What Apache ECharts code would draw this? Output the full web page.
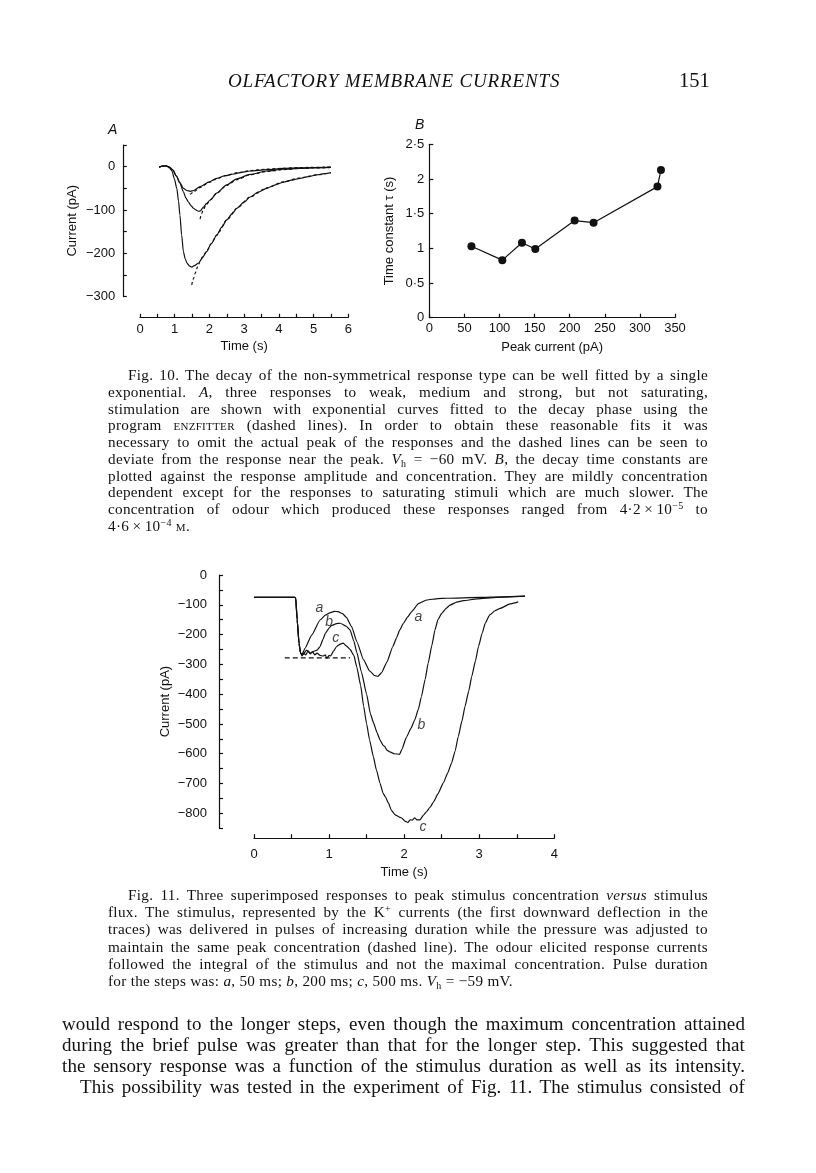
<!DOCTYPE html>
<html><head><meta charset="utf-8">
<script src="https://cdn.jsdelivr.net/npm/echarts@6/dist/echarts.min.js"></script>
<style>
html,body{margin:0;padding:0;background:#fff;}
#page{position:relative;width:816px;height:1173px;overflow:hidden;background:#fff;}
#chart{position:absolute;left:0;top:0;width:816px;height:1173px;}
.t{position:absolute;font-family:"Liberation Serif","Times New Roman",serif;color:#111;}
.cap{font-size:15.2px;line-height:16.75px;letter-spacing:0.3px;}
.cap2{font-size:15.2px;line-height:17.2px;letter-spacing:0.3px;}
.body{font-size:19px;line-height:21px;letter-spacing:0.1px;}
.j{text-align:justify;text-align-last:justify;}
.sc{font-variant:small-caps;}
.sup{font-size:10px;vertical-align:5px;line-height:0;}
.sub{font-size:10px;vertical-align:-3px;line-height:0;}
.pl{position:absolute;font-family:"Liberation Sans",Arial,sans-serif;font-style:italic;font-size:14px;color:#111;}
</style>
</head><body>
<div id="page">
<div id="chart"></div>

<div class="t" style="left:228px;top:70px;font-size:19px;font-style:italic;letter-spacing:0.85px;white-space:nowrap;">OLFACTORY MEMBRANE CURRENTS</div>
<div class="t" style="left:679px;top:69px;font-size:20.5px;white-space:nowrap;">151</div>

<div class="pl" style="left:108px;top:121px;">A</div>
<div class="pl" style="left:415px;top:116px;">B</div>

<div class="t cap" style="left:108px;top:367px;width:600px;">
<div class="j" style="padding-left:20px;">Fig. 10. The decay of the non-symmetrical response type can be well fitted by a single</div>
<div class="j">exponential. <i>A</i>, three responses to weak, medium and strong, but not saturating,</div>
<div class="j">stimulation are shown with exponential curves fitted to the decay phase using the</div>
<div class="j">program <span class="sc">enzfitter</span> (dashed lines). In order to obtain these reasonable fits it was</div>
<div class="j">necessary to omit the actual peak of the responses and the dashed lines can be seen to</div>
<div class="j">deviate from the response near the peak. <i>V</i><span class="sub">h</span> = −60 mV. <i>B</i>, the decay time constants are</div>
<div class="j">plotted against the response amplitude and concentration. They are mildly concentration</div>
<div class="j">dependent except for the responses to saturating stimuli which are much slower. The</div>
<div class="j">concentration of odour which produced these responses ranged from 4·2&#8201;×&#8201;10<span class="sup">−5</span> to</div>
<div>4·6&#8201;×&#8201;10<span class="sup">−4</span> <span class="sc">m</span>.</div>
</div>

<div class="t cap2" style="left:108px;top:886px;width:600px;">
<div class="j" style="padding-left:20px;">Fig. 11. Three superimposed responses to peak stimulus concentration <i>versus</i> stimulus</div>
<div class="j">flux. The stimulus, represented by the K<span class="sup">+</span> currents (the first downward deflection in the</div>
<div class="j">traces) was delivered in pulses of increasing duration while the pressure was adjusted to</div>
<div class="j">maintain the same peak concentration (dashed line). The odour elicited response currents</div>
<div class="j">followed the integral of the stimulus and not the maximal concentration. Pulse duration</div>
<div>for the steps was: <i>a</i>, 50 ms; <i>b</i>, 200 ms; <i>c</i>, 500 ms. <i>V</i><span class="sub">h</span> = −59 mV.</div>
</div>

<div class="t body" style="left:62px;top:1013px;width:683px;">
<div class="j">would respond to the longer steps, even though the maximum concentration attained</div>
<div class="j">during the brief pulse was greater than that for the longer step. This suggested that</div>
<div class="j">the sensory response was a function of the stimulus duration as well as its intensity.</div>
<div class="j" style="padding-left:18px;">This possibility was tested in the experiment of Fig. 11. The stimulus consisted of</div>
</div>
</div>

<script>
// ---------- Fig. 10 A : responses (time s, current pA) ----------
const weakResp = [[0.55,-1],[0.65,1],[0.75,2],[0.85,-1],[0.95,-8],[1.05,-22],[1.15,-37],[1.25,-50],[1.35,-55],[1.45,-57],[1.55,-55],[1.73,-46],[2.0,-35],[2.21,-27],[2.45,-21],[2.69,-17],[2.93,-13],[3.17,-10],[3.65,-7],[4.13,-4],[4.6,-3],[5.0,-2],[5.5,-1]];
const weakFit = [[1.44,-64],[1.55,-58],[1.73,-48],[2.0,-36],[2.21,-28],[2.5,-20],[2.8,-14],[3.2,-9],[3.6,-6],[4.1,-4],[4.6,-2],[5.5,-1]];
const mediumResp = [[0.55,-1],[0.65,1],[0.75,2],[0.85,-1],[0.95,-8],[1.05,-22],[1.15,-38],[1.25,-58],[1.32,-72],[1.39,-81],[1.47,-90],[1.54,-96],[1.61,-100],[1.68,-103],[1.74,-102],[1.82,-94],[1.92,-85],[2.02,-77],[2.21,-61],[2.5,-42],[2.79,-28],[3.17,-18],[3.65,-10],[4.13,-6],[4.61,-4],[5.0,-3],[5.5,-2]];
const mediumFit = [[1.73,-121],[1.78,-108],[1.82,-99],[1.92,-87],[2.02,-77],[2.21,-61],[2.5,-43],[2.79,-30],[3.17,-19],[3.65,-11],[4.13,-7],[4.61,-4],[5.0,-3],[5.5,-2]];
const strongResp = [[0.55,-1],[0.65,1],[0.75,2],[0.85,-3],[0.92,-10],[0.99,-28],[1.06,-50],[1.11,-80],[1.15,-112],[1.20,-158],[1.25,-196],[1.30,-212],[1.35,-222],[1.42,-229],[1.49,-232],[1.58,-228],[1.68,-223],[1.8,-210],[1.92,-196],[2.05,-178],[2.21,-158],[2.35,-140],[2.5,-123],[2.65,-109],[2.79,-96],[3.0,-82],[3.17,-70],[3.4,-59],[3.65,-50],[3.9,-42],[4.13,-36],[4.37,-31],[4.61,-27],[4.85,-23],[5.09,-19],[5.3,-16],[5.5,-14]];
const strongFit = [[1.49,-273],[1.54,-258],[1.59,-246],[1.66,-231],[1.73,-219],[1.82,-206],[1.92,-195],[2.05,-178],[2.21,-158],[2.5,-123],[2.79,-96],[3.17,-70],[3.65,-49],[4.13,-35],[4.61,-26],[5.09,-19],[5.5,-14]];

// ---------- Fig. 10 B : decay time constants ----------
const peakCurrent = [60, 104, 132, 151, 207, 234, 325, 330];
const tauValues   = [1.03, 0.83, 1.08, 0.99, 1.40, 1.37, 1.89, 2.13];

// ---------- Fig. 11 : superimposed responses ----------
const traceA = [[0,-75],[0.54,-75],[0.555,-76],[0.575,-150],[0.6,-230],[0.62,-262],[0.64,-266],[0.68,-246],[0.77,-201],[0.88,-151],[0.95,-135],[1.01,-127],[1.07,-122],[1.12,-123],[1.18,-130],[1.23,-142],[1.30,-173],[1.37,-224],[1.46,-285],[1.54,-322],[1.61,-338],[1.65,-340],[1.70,-328],[1.77,-292],[1.85,-240],[1.90,-210],[1.94,-185],[1.99,-162],[2.05,-140],[2.10,-123],[2.19,-96],[2.30,-84],[2.45,-79],[2.57,-78],[3.01,-75],[3.3,-73],[3.61,-71]];
const traceB = [[0,-75],[0.54,-75],[0.555,-76],[0.575,-150],[0.6,-230],[0.62,-262],[0.65,-268],[0.70,-252],[0.75,-262],[0.79,-257],[0.84,-252],[0.88,-240],[0.92,-215],[0.95,-196],[1.0,-178],[1.03,-170],[1.10,-163],[1.15,-162],[1.23,-172],[1.28,-185],[1.33,-222],[1.37,-260],[1.43,-325],[1.50,-400],[1.55,-465],[1.59,-495],[1.64,-530],[1.68,-554],[1.72,-572],[1.74,-575],[1.77,-588],[1.81,-594],[1.87,-600],[1.94,-602],[1.97,-585],[2.03,-545],[2.09,-515],[2.14,-487],[2.19,-450],[2.23,-408],[2.28,-350],[2.32,-296],[2.37,-235],[2.41,-185],[2.45,-150],[2.50,-129],[2.56,-112],[2.61,-101],[2.70,-91],[2.79,-86],[2.97,-80],[3.23,-75],[3.61,-71]];
const traceC = [[0,-75],[0.54,-75],[0.555,-76],[0.575,-150],[0.6,-230],[0.62,-262],[0.64,-272],[0.66,-262],[0.69,-268],[0.72,-255],[0.75,-265],[0.78,-258],[0.81,-268],[0.84,-262],[0.88,-270],[0.92,-272],[0.95,-268],[0.97,-280],[1.0,-270],[1.02,-272],[1.06,-255],[1.10,-240],[1.15,-232],[1.19,-229],[1.23,-238],[1.28,-250],[1.33,-270],[1.37,-310],[1.42,-370],[1.46,-440],[1.50,-500],[1.54,-554],[1.59,-610],[1.63,-654],[1.68,-700],[1.72,-733],[1.75,-745],[1.79,-765],[1.83,-790],[1.88,-805],[1.93,-812],[1.97,-816],[2.01,-826],[2.05,-831],[2.08,-822],[2.11,-823],[2.14,-815],[2.17,-822],[2.21,-822],[2.26,-805],[2.30,-794],[2.35,-778],[2.39,-762],[2.45,-735],[2.52,-699],[2.58,-665],[2.63,-632],[2.68,-590],[2.72,-543],[2.77,-490],[2.81,-442],[2.86,-390],[2.90,-341],[2.95,-288],[2.99,-240],[3.04,-195],[3.08,-162],[3.14,-134],[3.21,-120],[3.28,-112],[3.41,-97],[3.52,-90]];
const stimLevel = [[0.41,-278],[1.28,-278]];
const traceLabels = [[0.87,-112,'a'],[1.00,-157,'b'],[1.09,-212,'c'],[2.19,-142,'a'],[2.23,-503,'b'],[2.25,-847,'c']];

// tick label lists
const aYLabels = [0,-100,-200,-300];
const cYLabels = [0,-100,-200,-300,-400,-500,-600,-700,-800];

const INK = '#111';
const FONT = '"Liberation Sans", Arial, sans-serif';
const minus = v => v < 0 ? '\u2212' + Math.abs(v) : String(v);

function axisCommon(extra){
  return Object.assign({
    type:'value',
    axisLine:{show:true,onZero:false,lineStyle:{color:INK,width:1.2}},
    axisTick:{show:true,inside:true,length:4,lineStyle:{color:INK,width:1.2}},
    splitLine:{show:false},
    nameTextStyle:{color:INK,fontFamily:FONT,fontSize:13},
  }, extra);
}
function lbl(extra){
  return Object.assign({color:INK,fontFamily:FONT,fontSize:13}, extra);
}

const chart = echarts.init(document.getElementById('chart'), null, {renderer:'canvas'});
const line = (data, xi, dashed) => ({
  type:'line', xAxisIndex:xi, yAxisIndex:xi, data, symbol:'none', smooth:0.25, smoothMonotone:'x',
  lineStyle:{color:INK,width:1.2,type: dashed ? [3,2.5] : 'solid'}, silent:true, z: dashed ? 3 : 2
});

chart.setOption({
  animation:false,
  grid:[
    {left:140, top:145, width:208.3, height:151.6, outerBoundsMode:'none'},
    {left:429.3, top:144.3, width:245.7, height:173.4, outerBoundsMode:'none'},
    {left:254, top:575, width:300.3, height:253.2, outerBoundsMode:'none'}
  ],
  xAxis:[
    axisCommon({gridIndex:0, min:0, max:6, interval:0.5, offset:20.7,
      axisTick:{show:true,inside:true,length:3.5,lineStyle:{color:INK,width:1.2}},
      axisLabel:lbl({margin:6, formatter:v => Number.isInteger(v) ? String(v) : ''}),
      name:'Time (s)', nameLocation:'middle', nameGap:23}),
    axisCommon({gridIndex:1, min:0, max:350, interval:50,
      axisLabel:lbl({margin:4}),
      name:'Peak current (pA)', nameLocation:'middle', nameGap:23}),
    axisCommon({gridIndex:2, min:0, max:4, interval:0.5, offset:10,
      axisLabel:lbl({margin:10, formatter:v => Number.isInteger(v) ? String(v) : ''}),
      name:'Time (s)', nameLocation:'middle', nameGap:28})
  ],
  yAxis:[
    axisCommon({gridIndex:0, min:-300, max:50, interval:50, offset:16.7,
      axisTick:{show:true,inside:true,length:3.5,lineStyle:{color:INK,width:1.2}},
      axisLabel:lbl({margin:8, formatter:v => aYLabels.includes(v) ? minus(v) : ''}),
      name:'Current (pA)', nameLocation:'middle', nameGap:44, nameRotate:90}),
    axisCommon({gridIndex:1, min:0, max:2.5, interval:0.5,
      axisLabel:lbl({margin:5, formatter:v => String(v).replace('.', '\u00b7')}),
      name:'Time constant \u03c4 (s)', nameLocation:'middle', nameGap:33, nameRotate:90}),
    axisCommon({gridIndex:2, min:-850, max:0, interval:50, offset:35,
      axisLabel:lbl({margin:12, formatter:v => cYLabels.includes(v) ? minus(v) : ''}),
      name:'Current (pA)', nameLocation:'middle', nameGap:47, nameRotate:90})
  ],
  series:[
    line(weakResp,0,false), line(mediumResp,0,false), line(strongResp,0,false),
    line(weakFit,0,true), line(mediumFit,0,true), line(strongFit,0,true),
    {type:'line', xAxisIndex:1, yAxisIndex:1, data: peakCurrent.map((p,i)=>[p,tauValues[i]]),
     symbol:'circle', symbolSize:8, itemStyle:{color:INK}, lineStyle:{color:INK,width:1.2}, silent:true},
    Object.assign(line(traceA,2,false),{smooth:0.15}),
    Object.assign(line(traceB,2,false),{smooth:0.15}),
    Object.assign(line(traceC,2,false),{smooth:0.15}),
    Object.assign(line(stimLevel,2,true),{smooth:false, lineStyle:{color:INK,width:1.2,type:[5,3]}}),
    {type:'scatter', xAxisIndex:2, yAxisIndex:2, symbolSize:1, itemStyle:{color:'rgba(0,0,0,0)'}, silent:true,
     data: traceLabels.map(l => ({value:[l[0],l[1]], name:l[2]})),
     label:{show:true, position:'inside', formatter:'{b}', color:INK, fontFamily:FONT, fontStyle:'italic', fontSize:14}}
  ]
});
</script>
</body></html>
